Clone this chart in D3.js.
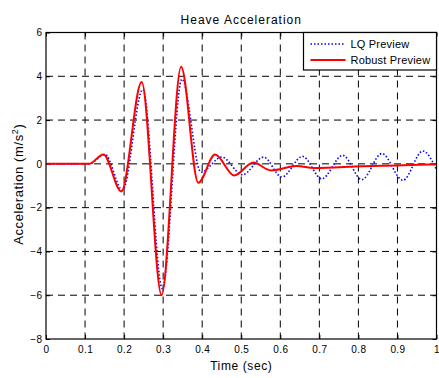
<!DOCTYPE html>
<html>
<head>
<meta charset="utf-8">
<script src="https://d3js.org/d3.v7.min.js"></script>
<style>
  body { margin: 0; background: #fff; }
  text { font-family: "Liberation Sans", Arial, sans-serif; fill: #000; }
</style>
</head>
<body>
<div id="chart"></div>
<script>
// values (local extrema of each trace)
var lqTime = [0, 0.11, 0.151, 0.196, 0.248, 0.298, 0.348, 0.397, 0.45, 0.503, 0.557, 0.604, 0.657, 0.706, 0.76, 0.809, 0.86, 0.914, 0.965, 1.0];
var lqAccel = [0, 0, 0.43, -1.2, 3.4, -5.7, 3.87, -0.38, 0.31, -0.5, 0.31, -0.6, 0.34, -0.68, 0.39, -0.72, 0.47, -0.75, 0.59, -0.27];

var robustTime = [0, 0.11, 0.147, 0.193, 0.245, 0.296, 0.346, 0.39, 0.433, 0.482, 0.531, 0.576, 0.642, 0.686, 0.81, 0.9, 1.0];
var robustAccel = [0, 0, 0.43, -1.26, 3.74, -6.0, 4.43, -0.86, 0.43, -0.53, 0.06, -0.3, -0.1, -0.19, -0.11, -0.07, -0.02];

var xTicks = [0, 0.1, 0.2, 0.3, 0.4, 0.5, 0.6, 0.7, 0.8, 0.9, 1];
var yTicks = [-8, -6, -4, -2, 0, 2, 4, 6];

var margin = { top: 32.5, right: 2.5, bottom: 39, left: 46 },
  width = 439 - margin.left - margin.right,
  height = 378 - margin.top - margin.bottom;

var svg = d3.select("#chart")
  .append("svg")
  .attr("width", 439)
  .attr("height", 378)
  .append("g")
  .attr("transform", "translate(" + margin.left + "," + margin.top + ")");

var x = d3.scaleLinear().domain([0, 1]).range([0, width]);
var y = d3.scaleLinear().domain([-8, 6]).range([height, 0]);

// grid
svg.selectAll(".vgrid")
  .data(xTicks.slice(1, -1))
  .join("line")
  .attr("x1", d => x(d)).attr("x2", d => x(d))
  .attr("y1", 0).attr("y2", height)
  .style("stroke", "#000")
  .style("stroke-width", 1)
  .style("stroke-dasharray", "7,5");

svg.selectAll(".hgrid")
  .data(yTicks.slice(1, -1))
  .join("line")
  .attr("y1", d => y(d)).attr("y2", d => y(d))
  .attr("x1", 0).attr("x2", width)
  .style("stroke", "#000")
  .style("stroke-width", 1)
  .style("stroke-dasharray", "7,5");

// axes, ticks pointing in (box on all four sides)
svg.append("g")
  .attr("transform", "translate(0," + height + ")")
  .call(d3.axisBottom(x).tickValues(xTicks).tickSize(-4).tickPadding(7).tickFormat(d3.format("")))
  .call(g => g.select(".domain").remove());
svg.append("g")
  .call(d3.axisTop(x).tickValues(xTicks).tickSize(-4).tickFormat(""))
  .call(g => g.select(".domain").remove());
svg.append("g")
  .call(d3.axisLeft(y).tickValues(yTicks).tickSize(-4).tickPadding(3.5))
  .call(g => g.select(".domain").remove());
svg.append("g")
  .attr("transform", "translate(" + width + ",0)")
  .call(d3.axisRight(y).tickValues(yTicks).tickSize(-4).tickFormat(""))
  .call(g => g.select(".domain").remove());

svg.selectAll(".tick text")
  .style("font-size", "10px")
  .style("letter-spacing", "0.4px")
  .style("fill", "#000");
svg.selectAll(".tick line").style("stroke", "#000");

// traces
var line = d3.line()
  .x(d => x(d[0]))
  .y(d => y(d[1]))
  .curve(d3.curveMonotoneX);

svg.append("path")
  .datum(lqTime.map((t, i) => [t, lqAccel[i]]))
  .attr("d", line)
  .style("fill", "none")
  .style("stroke", "#0000ff")
  .style("stroke-width", 1.6)
  .style("stroke-dasharray", "1.5,2");

svg.append("path")
  .datum(robustTime.map((t, i) => [t, robustAccel[i]]))
  .attr("d", line)
  .style("fill", "none")
  .style("stroke", "#ff0000")
  .style("stroke-width", 2);

// frame
svg.append("rect")
  .attr("width", width).attr("height", height)
  .style("fill", "none")
  .style("stroke", "#000")
  .style("stroke-width", 1.2);

// legend
var legend = svg.append("g").attr("transform", "translate(" + (width - 133) + ",0)");
legend.append("rect")
  .attr("width", 133).attr("height", 37.5)
  .style("fill", "#fff")
  .style("stroke", "#000")
  .style("stroke-width", 1.2);
var items = [
  { label: "LQ Preview", color: "#0000ff", dash: "1.5,2", w: 1.6 },
  { label: "Robust Preview", color: "#ff0000", dash: null, w: 2 }
];
items.forEach((it, i) => {
  var yy = 11.5 + i * 16;
  legend.append("line")
    .attr("x1", 7).attr("x2", 42)
    .attr("y1", yy).attr("y2", yy)
    .style("stroke", it.color)
    .style("stroke-width", it.w)
    .style("stroke-dasharray", it.dash);
  legend.append("text")
    .attr("x", 47).attr("y", yy + 4)
    .style("font-size", "11px")
    .style("letter-spacing", "0.2px")
    .text(it.label);
});

// title and labels
svg.append("text")
  .attr("x", width / 2).attr("y", -8.5)
  .attr("text-anchor", "middle")
  .style("font-size", "12px")
  .style("letter-spacing", "1px")
  .text("Heave Acceleration");

svg.append("text")
  .attr("x", width / 2).attr("y", height + 31)
  .attr("text-anchor", "middle")
  .style("font-size", "12px")
  .style("letter-spacing", "0.6px")
  .text("Time (sec)");

var yl = svg.append("text")
  .attr("transform", "translate(-23.5," + (height / 2 - 1.5) + ") rotate(-90)")
  .attr("text-anchor", "middle")
  .style("font-size", "13px")
  .style("letter-spacing", "0.6px");
yl.append("tspan").text("Acceleration (m/s");
yl.append("tspan").attr("baseline-shift", "super").style("font-size", "9px").text("2");
yl.append("tspan").text(")");
</script>
</body>
</html>
